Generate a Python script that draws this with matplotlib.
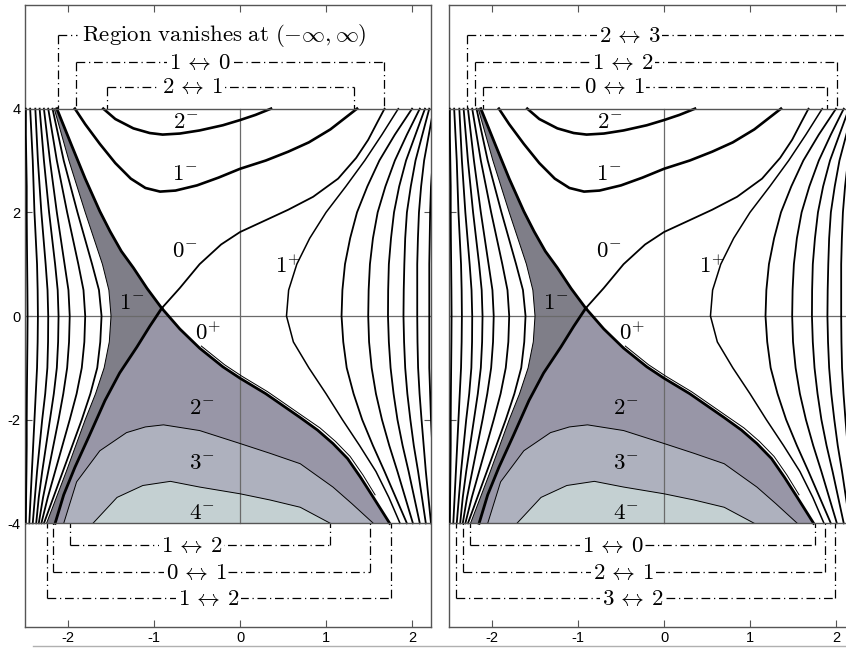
import numpy as np
import matplotlib
matplotlib.use("Agg")
import matplotlib.pyplot as plt
from matplotlib.lines import Line2D

plt.rcParams['mathtext.fontset'] = 'cm'
plt.rcParams['axes.unicode_minus'] = False
plt.rcParams['font.family'] = ['Liberation Sans', 'DejaVu Sans']

# ---------------------------------------------------------------- data
# Near-vertical contour families, x sampled at fixed heights
y_levels = [4, 3.5, 3, 2.5, 2, 1.5, 1, 0.5, 0, -0.5, -1, -1.5, -2, -2.5, -3, -3.5, -4]

left_family = [
    [-2.49, -2.49, -2.485, -2.48, -2.48, -2.478, -2.475, -2.472, -2.47, -2.472, -2.475, -2.478, -2.48, -2.48, -2.483, -2.487, -2.49],
    [-2.44, -2.425, -2.41, -2.40, -2.39, -2.375, -2.36, -2.353, -2.35, -2.353, -2.36, -2.375, -2.39, -2.405, -2.42, -2.435, -2.45],
    [-2.38, -2.365, -2.35, -2.33, -2.31, -2.285, -2.26, -2.238, -2.23, -2.232, -2.24, -2.265, -2.30, -2.33, -2.36, -2.385, -2.41],
    [-2.33, -2.305, -2.28, -2.25, -2.22, -2.185, -2.15, -2.12, -2.11, -2.115, -2.13, -2.165, -2.21, -2.255, -2.30, -2.34, -2.37],
    [-2.28, -2.245, -2.21, -2.17, -2.13, -2.085, -2.04, -1.995, -1.98, -1.988, -2.01, -2.055, -2.11, -2.17, -2.23, -2.29, -2.34],
    [-2.23, -2.18, -2.13, -2.07, -2.01, -1.945, -1.88, -1.82, -1.80, -1.81, -1.84, -1.90, -1.98, -2.065, -2.15, -2.235, -2.31],
    [-2.18, -2.115, -2.05, -1.97, -1.89, -1.805, -1.72, -1.64, -1.61, -1.625, -1.66, -1.74, -1.84, -1.95, -2.06, -2.17, -2.28],
]
dark_edge = [-2.16, -2.075, -1.99, -1.895, -1.80, -1.70, -1.60, -1.525, -1.50, -1.52, -1.58, -1.68, -1.80, -1.91, -2.02, -2.135, -2.25]

one_plus = [1.84, 1.65, 1.45, 1.23, 1.00, 0.81, 0.66, 0.565, 0.54, 0.62, 0.80, 1.00, 1.19, 1.39, 1.58, 1.73, 1.86]
right_family = [
    [2.00, 1.80, 1.62, 1.48, 1.36, 1.28, 1.22, 1.19, 1.18, 1.20, 1.24, 1.32, 1.42, 1.545, 1.68, 1.81, 1.94],
    [2.09, 1.94, 1.80, 1.69, 1.60, 1.545, 1.51, 1.495, 1.49, 1.50, 1.53, 1.58, 1.65, 1.735, 1.83, 1.92, 2.01],
    [2.15, 2.04, 1.93, 1.85, 1.79, 1.755, 1.73, 1.722, 1.72, 1.73, 1.75, 1.785, 1.83, 1.89, 1.96, 2.025, 2.09],
    [2.20, 2.12, 2.04, 1.985, 1.94, 1.92, 1.91, 1.903, 1.90, 1.907, 1.92, 1.945, 1.98, 2.02, 2.07, 2.115, 2.16],
    [2.25, 2.195, 2.14, 2.105, 2.08, 2.068, 2.06, 2.06, 2.06, 2.063, 2.07, 2.087, 2.11, 2.135, 2.16, 2.19, 2.22],
    [2.30, 2.27, 2.24, 2.22, 2.21, 2.205, 2.20, 2.20, 2.20, 2.20, 2.20, 2.21, 2.22, 2.235, 2.25, 2.265, 2.28],
]

# Upper contours (2- and 1- levels)
c2m_x = [-1.59, -1.45, -1.24, -1.05, -0.90, -0.70, -0.47, -0.20, 0.00, 0.18, 0.36]
c2m_y = [4.00, 3.80, 3.62, 3.53, 3.50, 3.52, 3.58, 3.68, 3.78, 3.88, 4.00]
c1m_x = [-1.92, -1.80, -1.63, -1.45, -1.27, -1.10, -0.93, -0.75, -0.50, -0.25, 0.00, 0.30, 0.56, 0.80, 1.05, 1.36]
c1m_y = [4.00, 3.70, 3.32, 2.95, 2.65, 2.47, 2.40, 2.42, 2.52, 2.67, 2.84, 3.00, 3.17, 3.35, 3.60, 4.00]

# The two separatrices crossing near (-0.91, 0.15)
l1_up_x = [-2.13, -1.96, -1.80, -1.63, -1.51, -1.38, -1.24, -1.08, -0.91]
l1_up_y = [4.00, 3.30, 2.65, 2.02, 1.63, 1.25, 0.93, 0.53, 0.15]
l1_low_x = [-0.91, -0.70, -0.47, -0.20, 0.00, 0.30, 0.70, 0.90, 1.08, 1.25, 1.40, 1.55, 1.74]
l1_low_y = [0.15, -0.25, -0.62, -0.98, -1.20, -1.50, -1.96, -2.20, -2.46, -2.75, -3.11, -3.50, -4.00]
l1_twin_x = [-0.45, -0.18, 0.02, 0.32, 0.72, 0.93, 1.11, 1.28, 1.43, 1.57]
l1_twin_y = [-0.58, -0.94, -1.16, -1.46, -1.92, -2.16, -2.42, -2.71, -3.07, -3.45]
l2_low_x = [-0.91, -1.05, -1.20, -1.40, -1.57, -1.75, -1.92, -2.05, -2.15]
l2_low_y = [0.15, -0.20, -0.60, -1.10, -1.63, -2.30, -2.92, -3.45, -4.00]
l2_up_x = [-0.91, -0.70, -0.47, -0.22, 0.00, 0.30, 0.56, 0.85, 1.14, 1.35, 1.49, 1.60, 1.68]
l2_up_y = [0.15, 0.54, 1.00, 1.38, 1.62, 1.85, 2.05, 2.30, 2.65, 3.05, 3.40, 3.75, 4.00]

# Shaded bands in the lower part
band3_x = [-2.05, -1.90, -1.63, -1.32, -1.10, -0.89, -0.47, 0.00, 0.35, 0.70, 1.08, 1.30, 1.55]
band3_y = [-4.00, -3.20, -2.60, -2.25, -2.14, -2.10, -2.21, -2.46, -2.65, -2.85, -3.30, -3.62, -4.00]
band4_x = [-1.71, -1.43, -1.13, -0.81, -0.47, 0.00, 0.35, 0.70, 1.05]
band4_y = [-4.00, -3.50, -3.27, -3.19, -3.30, -3.43, -3.55, -3.69, -4.00]

region_labels = [
    (r"$2^{-}$", -0.63, 3.75), (r"$1^{-}$", -0.64, 2.75), (r"$0^{-}$", -0.64, 1.27),
    (r"$1^{-}$", -1.26, 0.27), (r"$0^{+}$", -0.37, -0.33), (r"$1^{+}$", 0.56, 0.96),
    (r"$2^{-}$", -0.44, -1.77), (r"$3^{-}$", -0.44, -2.83), (r"$4^{-}$", -0.44, -3.79),
]

# Transition brackets: label, height, left end, right end, label centre
left_top = [(r"$1\,\leftrightarrow\,0$", 4.90, -1.91, 1.67, -0.47),
            (r"$2\,\leftrightarrow\,1$", 4.42, -1.55, 1.32, -0.56)]
left_bottom = [(r"$1\,\leftrightarrow\,2$", -4.42, -1.98, 1.05, -0.56),
               (r"$0\,\leftrightarrow\,1$", -4.94, -2.17, 1.51, -0.51),
               (r"$1\,\leftrightarrow\,2$", -5.45, -2.25, 1.76, -0.37)]
right_top = [(r"$2\,\leftrightarrow\,3$", 5.42, -2.29, 2.16, -0.40),
             (r"$1\,\leftrightarrow\,2$", 4.90, -2.20, 2.01, -0.48),
             (r"$0\,\leftrightarrow\,1$", 4.42, -2.10, 1.89, -0.58)]
right_bottom = [(r"$1\,\leftrightarrow\,0$", -4.42, -2.26, 1.76, -0.60),
                (r"$2\,\leftrightarrow\,1$", -4.94, -2.34, 1.87, -0.47),
                (r"$3\,\leftrightarrow\,2$", -5.45, -2.42, 1.99, -0.37)]
note_text = r"$\mathrm{Region\ vanishes\ at\ }(-\infty,\infty)$"
note_pos = (-2.12, 5.42, -1.84)

x_ticks = [-2, -1, 0, 1, 2]
y_ticks = [-4, -2, 0, 2, 4]

# ---------------------------------------------------------------- styles
C_DARK = '#7f7e88'
C_BAND2 = '#9896a7'
C_BAND3 = '#aeb1be'
C_BAND4 = '#c4d0d2'
DASHDOT = (0, (7, 3, 1, 3))
LABEL_FS = 16.5


def draw_main(ax):
    # shaded regions
    poly_x = list(dark_edge) + l2_low_x[::-1] + l1_up_x[::-1]
    poly_y = list(y_levels) + l2_low_y[::-1] + l1_up_y[::-1]
    ax.fill(poly_x, poly_y, color=C_DARK, lw=0, zorder=1)
    ax.fill(l2_low_x + l1_low_x[::-1], l2_low_y + l1_low_y[::-1],
            color=C_BAND2, lw=0, zorder=1)
    ax.fill(band3_x, band3_y, color=C_BAND3, lw=0, zorder=1.1)
    ax.fill(band4_x, band4_y, color=C_BAND4, lw=0, zorder=1.2)

    # axes cross inside the frame
    ax.plot([0, 0], [-4, 4], color='#6a6a6a', lw=0.9, zorder=2)
    ax.axhline(0, color='#6a6a6a', lw=0.9, zorder=2)
    ax.axhline(4, color='#555555', lw=1.0, zorder=4)
    ax.axhline(-4, color='#555555', lw=1.0, zorder=4)

    for xs in left_family:
        ax.plot(xs, y_levels, color='black', lw=1.3, zorder=3)
    ax.plot(dark_edge, y_levels, color='black', lw=0.7, zorder=3)
    for xs in right_family:
        ax.plot(xs, y_levels, color='black', lw=1.3, zorder=3)
    ax.plot(one_plus, y_levels, color='black', lw=1.1, zorder=3)

    ax.plot(c2m_x, c2m_y, color='black', lw=1.9, zorder=3)
    ax.plot(c1m_x, c1m_y, color='black', lw=1.9, zorder=3)
    ax.plot(l1_up_x, l1_up_y, color='black', lw=2.0, zorder=3)
    ax.plot(l1_low_x, l1_low_y, color='black', lw=2.0, zorder=3)
    ax.plot(l1_twin_x, l1_twin_y, color='black', lw=0.7, zorder=3)
    ax.plot(l2_low_x, l2_low_y, color='black', lw=2.0, zorder=3)
    ax.plot(l2_up_x, l2_up_y, color='black', lw=1.3, zorder=3)
    ax.plot(band3_x, band3_y, color='black', lw=0.7, zorder=3)
    ax.plot(band4_x, band4_y, color='black', lw=0.7, zorder=3)

    for txt, x, y in region_labels:
        ax.text(x, y, txt, fontsize=LABEL_FS, ha='center', va='center', zorder=5)


def draw_brackets(ax, items, edge):
    for txt, y, x0, x1, xc in items:
        ax.plot([x0, x1], [y, y], color='black', lw=0.9, ls=DASHDOT, zorder=3)
        ax.plot([x0, x0], [y, edge], color='black', lw=0.9, ls=DASHDOT, zorder=3)
        ax.plot([x1, x1], [y, edge], color='black', lw=0.9, ls=DASHDOT, zorder=3)
        ax.text(xc, y, txt, fontsize=LABEL_FS, ha='center', va='center', zorder=5,
                bbox=dict(boxstyle='square,pad=0.08', fc='white', ec='none'))


def style_axes(ax, xlim, show_ylabels):
    ax.set_xlim(*xlim)
    ax.set_ylim(-6, 6)
    ax.set_xticks(x_ticks)
    ax.set_yticks(y_ticks)
    ax.set_xticklabels([str(v) for v in x_ticks])
    ax.set_yticklabels([str(v) for v in y_ticks])
    ax.tick_params(direction='in', length=5, width=0.8, color='#555555',
                   top=True, right=True, labelsize=10.5, pad=3,
                   labelleft=show_ylabels)
    for s in ax.spines.values():
        s.set_color('#555555')
        s.set_linewidth(1.0)


fig = plt.figure(figsize=(8.46, 6.53), dpi=100)
W, H = 846, 653
ax1 = fig.add_axes([25 / W, (H - 627) / H, 406 / W, 622 / H])
ax2 = fig.add_axes([449 / W, (H - 627) / H, 397 / W, 622 / H])

for ax in (ax1, ax2):
    draw_main(ax)

draw_brackets(ax1, left_top, 4)
draw_brackets(ax1, left_bottom, -4)
draw_brackets(ax2, right_top, 4)
draw_brackets(ax2, right_bottom, -4)

# note above the left panel
nx, ny, tx = note_pos
ax1.plot([nx, nx], [ny, 4], color='black', lw=0.9, ls=DASHDOT, zorder=3)
ax1.plot([nx, tx - 0.05], [ny, ny], color='black', lw=0.9, ls=DASHDOT, zorder=3)
ax1.text(tx, ny, note_text, fontsize=LABEL_FS, ha='left', va='center', zorder=5)

style_axes(ax1, (-2.5, 2.22), True)
style_axes(ax2, (-2.5, 2.116), False)
ax2.spines['right'].set_visible(False)
ax2.tick_params(right=False)

fig.add_artist(Line2D([33 / W, 1.0], [(H - 646) / H, (H - 646) / H],
                      color='#b0b0b0', lw=1.0, transform=fig.transFigure))

fig.savefig('out.png', dpi=100)
